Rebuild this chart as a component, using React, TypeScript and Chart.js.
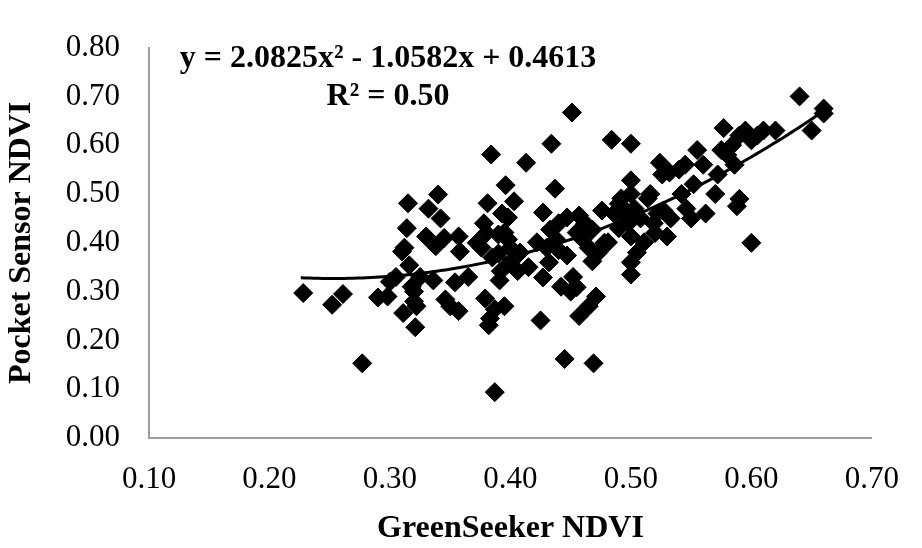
import React, { useEffect, useRef } from "react";
import { Chart, registerables } from "chart.js";

Chart.register(...registerables);

// GreenSeeker NDVI (x) and Pocket Sensor NDVI (y)
const greenSeeker = [
  0.228, 0.252, 0.261, 0.277, 0.290, 0.298, 0.300, 0.305, 0.310, 0.311,
  0.312, 0.314, 0.315, 0.316, 0.318, 0.320, 0.320, 0.321, 0.322, 0.325,
  0.330, 0.332, 0.336, 0.338, 0.340, 0.342, 0.345, 0.346, 0.350, 0.354,
  0.357, 0.357, 0.358, 0.365, 0.372, 0.376, 0.378, 0.379, 0.380, 0.381,
  0.382, 0.383, 0.384, 0.385, 0.387, 0.387, 0.390, 0.390, 0.391, 0.392,
  0.393, 0.395, 0.395, 0.396, 0.398, 0.398, 0.400, 0.400, 0.403, 0.406,
  0.408, 0.413, 0.415, 0.422, 0.425, 0.427, 0.427, 0.430, 0.432, 0.433,
  0.434, 0.437, 0.438, 0.440, 0.440, 0.442, 0.445, 0.447, 0.447, 0.450,
  0.451, 0.452, 0.455, 0.455, 0.457, 0.457, 0.460, 0.462, 0.465, 0.465,
  0.468, 0.468, 0.469, 0.471, 0.473, 0.476, 0.478, 0.481, 0.484, 0.486,
  0.490, 0.490, 0.492, 0.494, 0.497, 0.498, 0.500, 0.500, 0.500, 0.500,
  0.500, 0.500, 0.503, 0.505, 0.508, 0.511, 0.514, 0.516, 0.519, 0.520,
  0.522, 0.524, 0.526, 0.527, 0.530, 0.532, 0.533, 0.540, 0.542, 0.545,
  0.546, 0.550, 0.552, 0.555, 0.560, 0.562, 0.570, 0.572, 0.575, 0.577,
  0.580, 0.584, 0.586, 0.590, 0.590, 0.588, 0.595, 0.600, 0.600, 0.605,
  0.610, 0.620, 0.640, 0.650, 0.660, 0.660,
];
const pocketSensor = [
  0.297, 0.273, 0.295, 0.153, 0.288, 0.290, 0.320, 0.330, 0.382, 0.256,
  0.390, 0.430, 0.481, 0.354, 0.310, 0.300, 0.280, 0.227, 0.270, 0.330,
  0.413, 0.470, 0.323, 0.393, 0.499, 0.450, 0.410, 0.284, 0.270, 0.319,
  0.260, 0.413, 0.382, 0.330, 0.400, 0.390, 0.440, 0.286, 0.420, 0.481,
  0.231, 0.245, 0.581, 0.370, 0.094, 0.264, 0.417, 0.378, 0.323, 0.342,
  0.460, 0.421, 0.270, 0.518, 0.452, 0.407, 0.390, 0.360, 0.485, 0.342,
  0.380, 0.564, 0.350, 0.401, 0.241, 0.462, 0.329, 0.390, 0.360, 0.427,
  0.603, 0.511, 0.407, 0.440, 0.385, 0.310, 0.162, 0.452, 0.374, 0.300,
  0.667, 0.330, 0.421, 0.309, 0.456, 0.250, 0.407, 0.440, 0.270, 0.390,
  0.427, 0.362, 0.153, 0.290, 0.380, 0.466, 0.400, 0.401, 0.611, 0.460,
  0.480, 0.430, 0.491, 0.470, 0.452, 0.440, 0.603, 0.528, 0.500, 0.413,
  0.360, 0.335, 0.470, 0.380, 0.450, 0.401, 0.491, 0.500, 0.440, 0.420,
  0.460, 0.564, 0.540, 0.466, 0.413, 0.544, 0.450, 0.550, 0.500, 0.560,
  0.470, 0.450, 0.520, 0.590, 0.560, 0.460, 0.500, 0.540, 0.590, 0.635,
  0.580, 0.600, 0.560, 0.620, 0.490, 0.475, 0.630, 0.610, 0.400, 0.620,
  0.630, 0.630, 0.700, 0.630, 0.665, 0.675,
];

// Polynomial trendline coefficients (a, b, c) as printed on the chart
const trendCoefficients = [2.0825, -1.0582, 0.4613];
const equationLines = ["y = 2.0825x\u00B2 - 1.0582x + 0.4613", "R\u00B2 = 0.50"];

const xAxisTitle = "GreenSeeker NDVI";
const yAxisTitle = "Pocket Sensor NDVI";
const xRange = [0.1, 0.7];
const yRange = [0.0, 0.8];
const tickStep = 0.1;

const SERIF = '"Liberation Serif", "Times New Roman", Times, serif';

export default function App() {
  const canvasRef = useRef<HTMLCanvasElement>(null);

  useEffect(() => {
    document.body.style.margin = "0";
    const canvas = canvasRef.current;
    if (!canvas) return;

    const points = greenSeeker.map((x, i) => ({ x, y: pocketSensor[i] }));
    const [a, b, c] = trendCoefficients;
    const xmin = Math.min(...greenSeeker) - 0.002;
    const xmax = Math.max(...greenSeeker) + 0.002;
    const trend: { x: number; y: number }[] = [];
    const n = 120;
    for (let i = 0; i <= n; i++) {
      const x = xmin + ((xmax - xmin) * i) / n;
      trend.push({ x, y: a * x * x + b * x + c });
    }

    const equationPlugin = {
      id: "equationLabel",
      afterDatasetsDraw(chart: any) {
        const { ctx, chartArea } = chart;
        ctx.save();
        ctx.fillStyle = "#000";
        ctx.font = `bold 32px ${SERIF}`;
        ctx.textAlign = "center";
        ctx.textBaseline = "alphabetic";
        const cx = chartArea.left + 239;
        ctx.fillText(equationLines[0], cx, 67);
        ctx.fillText(equationLines[1], cx, 105);
        ctx.restore();
      },
    };

    const chart = new Chart(canvas, {
      type: "scatter",
      data: {
        datasets: [
          {
            label: "NDVI",
            data: points,
            pointStyle: "rectRot",
            pointRadius: 9.5,
            pointHoverRadius: 9.5,
            backgroundColor: "#000",
            borderColor: "#000",
            borderWidth: 1,
          },
          {
            type: "line",
            label: "Poly. trend",
            data: trend,
            borderColor: "#000",
            borderWidth: 3,
            pointRadius: 0,
            fill: false,
            tension: 0,
          } as any,
        ],
      },
      options: {
        responsive: false,
        animation: false,
        events: [],
        layout: { padding: { left: 0, top: 29, right: 32, bottom: 0 } },
        plugins: {
          legend: { display: false },
          tooltip: { enabled: false },
        },
        scales: {
          x: {
            type: "linear",
            min: xRange[0],
            max: xRange[1],
            grid: { display: false, drawTicks: false },
            border: { display: true, color: "#9e9e9e", width: 2 },
            ticks: {
              stepSize: tickStep,
              padding: 23,
              color: "#000",
              font: { family: SERIF, size: 31 },
              callback: (v: any) => Number(v).toFixed(2),
            },
            title: {
              display: true,
              text: xAxisTitle,
              color: "#000",
              font: { family: SERIF, size: 32, weight: "bold" },
              padding: { top: 0, bottom: 0 },
            },
            afterFit: (scale: any) => {
              scale.height = 110;
            },
          },
          y: {
            type: "linear",
            min: yRange[0],
            max: yRange[1],
            grid: { display: false, drawTicks: false },
            border: { display: true, color: "#9e9e9e", width: 2 },
            ticks: {
              stepSize: tickStep,
              padding: 29,
              color: "#000",
              font: { family: SERIF, size: 31 },
              callback: (v: any) => Number(v).toFixed(2),
            },
            title: {
              display: true,
              text: yAxisTitle,
              color: "#000",
              font: { family: SERIF, size: 32, weight: "bold" },
              padding: { top: 3, bottom: 0 },
            },
            afterFit: (scale: any) => {
              scale.width = 149;
            },
          },
        },
      },
      plugins: [equationPlugin],
    });

    return () => chart.destroy();
  }, []);

  return (
    <div style={{ width: 922, height: 548, position: "relative" }}>
      <canvas ref={canvasRef} width={922} height={548} style={{ display: "block" }} />
    </div>
  );
}
